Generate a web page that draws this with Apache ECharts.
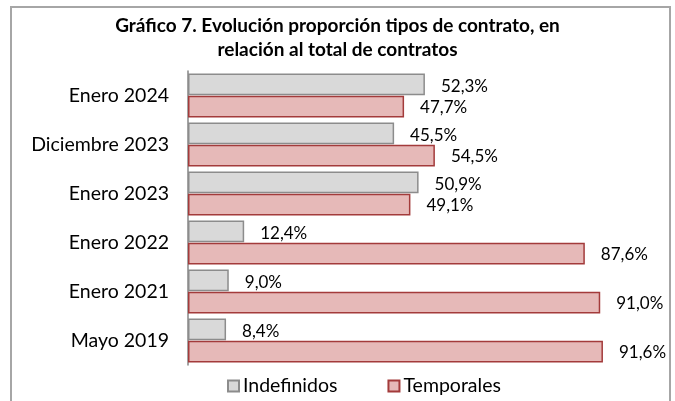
<!DOCTYPE html>
<html>
<head>
<meta charset="utf-8">
<script src="https://cdn.jsdelivr.net/npm/echarts@6/dist/echarts.min.js"></script>
<style>
  html, body { margin: 0; padding: 0; background: #ffffff; }
  #chart { width: 675px; height: 401px; }
</style>
</head>
<body>
<div id="chart"></div>
<script>
const categories = ['Enero 2024', 'Diciembre 2023', 'Enero 2023', 'Enero 2022', 'Enero 2021', 'Mayo 2019'];
const indefinidos = [52.3, 45.5, 50.9, 12.4, 9.0, 8.4];
const temporales = [47.7, 54.5, 49.1, 87.6, 91.0, 91.6];
const titleText = 'Gráfico 7. Evolución proporción tipos de contrato, en\nrelación al total de contratos';

const fmt = p => p.value.toFixed(1).replace('.', ',') + '%';
const FONT = 'Lato, "Open Sans", sans-serif';

const chart = echarts.init(document.getElementById('chart'), null, { renderer: 'canvas' });
chart.setOption({
  animation: false,
  backgroundColor: '#ffffff',
  graphic: [{
    type: 'rect',
    shape: { x: 11, y: 7, width: 659, height: 420 },
    style: { fill: 'none', stroke: '#a6a6a6', lineWidth: 2 },
    silent: true, z: -1
  }],
  title: {
    text: titleText,
    left: 'center',
    top: 9,
    textStyle: { fontFamily: FONT, fontWeight: 'bold', fontSize: 19, color: '#000', lineHeight: 24 }
  },
  legend: {
    top: 371,
    left: 222,
    itemGap: 50,
    itemWidth: 11,
    itemHeight: 11,
    icon: 'rect',
    textStyle: { fontFamily: FONT, fontSize: 19.5, color: '#000', padding: [0, 0, 0, -1] },
    data: ['Indefinidos', 'Temporales']
  },
  grid: { left: 188, right: 34, top: 71, bottom: 36 },
  xAxis: {
    type: 'value', min: 0, max: 100,
    axisLabel: { show: false }, axisLine: { show: false }, axisTick: { show: false },
    splitLine: { show: false }
  },
  yAxis: {
    type: 'category', data: categories, inverse: true,
    axisLine: { show: true, lineStyle: { color: '#868686', width: 1.5 } },
    axisTick: { show: false },
    axisLabel: { fontFamily: FONT, fontSize: 19.5, color: '#000', margin: 19 }
  },
  series: [{
    name: 'Indefinidos', type: 'bar', data: indefinidos,
    barCategoryGap: '10%', barGap: '3%',
    itemStyle: { color: '#d9d9d9', borderColor: '#8c8c8c', borderWidth: 1.5 },
    label: { show: true, position: 'right', distance: 16, offset: [0, 2], formatter: fmt,
      fontFamily: FONT, fontSize: 17, color: '#000' }
  }, {
    name: 'Temporales', type: 'bar', data: temporales,
    barCategoryGap: '10%', barGap: '3%',
    itemStyle: { color: '#e6b9b8', borderColor: '#a33b3b', borderWidth: 1.5 },
    label: { show: true, position: 'right', distance: 16, offset: [0, 1], formatter: fmt,
      fontFamily: FONT, fontSize: 17, color: '#000' }
  }]
});
</script>
</body>
</html>
